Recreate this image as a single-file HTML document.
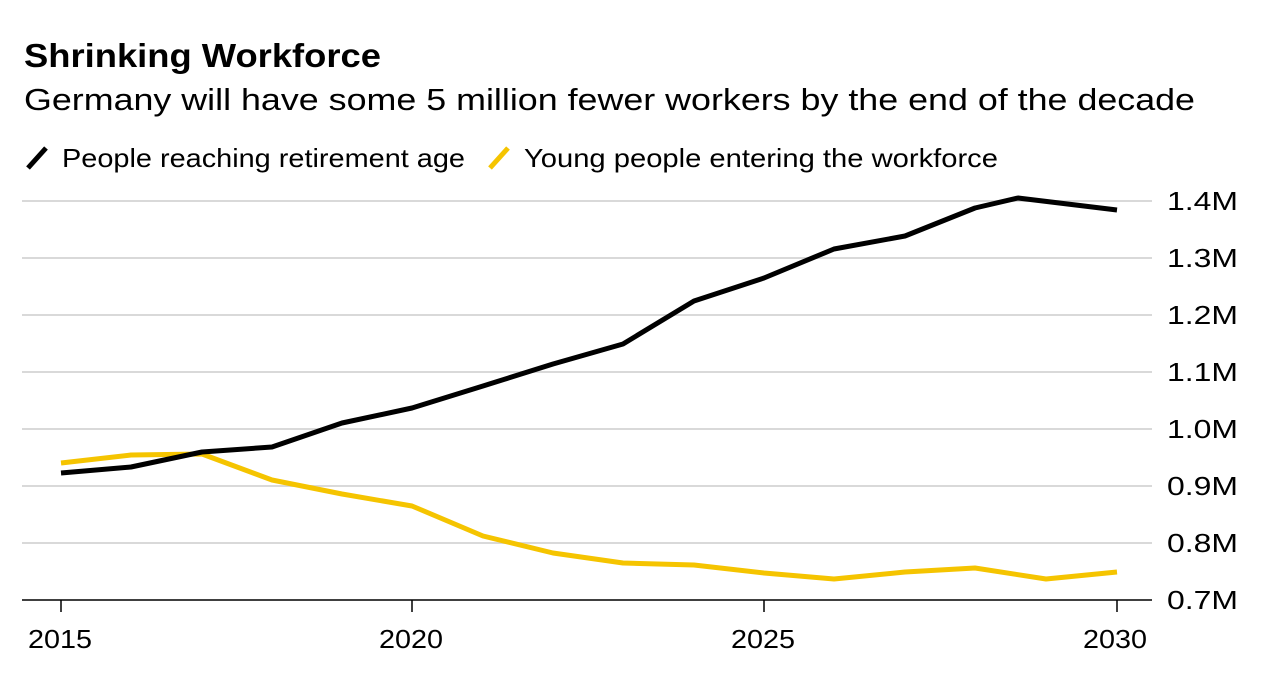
<!DOCTYPE html>
<html><head><meta charset="utf-8"><style>
body{margin:0;background:#fff;width:1264px;height:691px;overflow:hidden;font-family:"Liberation Sans",Arial,sans-serif;}
</style></head><body>
<svg width="1264" height="691" xmlns="http://www.w3.org/2000/svg" font-family="Liberation Sans, Arial, sans-serif">
<text x="24" y="67" font-size="33" font-weight="bold" fill="#000" textLength="357" lengthAdjust="spacingAndGlyphs">Shrinking Workforce</text>
<text x="24" y="110" font-size="31" fill="#000" textLength="1171" lengthAdjust="spacingAndGlyphs">Germany will have some 5 million fewer workers by the end of the decade</text>
<line x1="28" y1="168" x2="46" y2="148" stroke="#000" stroke-width="5"/>
<text x="62" y="167" font-size="26" fill="#000" textLength="403" lengthAdjust="spacingAndGlyphs">People reaching retirement age</text>
<line x1="490" y1="168" x2="508" y2="148" stroke="#f5c400" stroke-width="5"/>
<text x="524" y="167" font-size="26" fill="#000" textLength="474" lengthAdjust="spacingAndGlyphs">Young people entering the workforce</text>
<g stroke="#d9d9d9" stroke-width="2">
<line x1="22" y1="201" x2="1152" y2="201"/><line x1="22" y1="258" x2="1152" y2="258"/>
<line x1="22" y1="315" x2="1152" y2="315"/><line x1="22" y1="372" x2="1152" y2="372"/>
<line x1="22" y1="429" x2="1152" y2="429"/><line x1="22" y1="486" x2="1152" y2="486"/>
<line x1="22" y1="543" x2="1152" y2="543"/>
</g>
<line x1="22" y1="600" x2="1152" y2="600" stroke="#000" stroke-width="1.5"/>
<g stroke="#000" stroke-width="1.5">
<line x1="61" y1="600" x2="61" y2="612"/><line x1="412" y1="600" x2="412" y2="612"/>
<line x1="764" y1="600" x2="764" y2="612"/><line x1="1117" y1="600" x2="1117" y2="612"/>
</g>
<g font-size="26" fill="#000">
<text x="1167" y="210" textLength="71" lengthAdjust="spacingAndGlyphs">1.4M</text><text x="1167" y="267" textLength="71" lengthAdjust="spacingAndGlyphs">1.3M</text><text x="1167" y="324" textLength="71" lengthAdjust="spacingAndGlyphs">1.2M</text>
<text x="1167" y="381" textLength="71" lengthAdjust="spacingAndGlyphs">1.1M</text><text x="1167" y="438" textLength="71" lengthAdjust="spacingAndGlyphs">1.0M</text><text x="1167" y="495" textLength="71" lengthAdjust="spacingAndGlyphs">0.9M</text>
<text x="1167" y="552" textLength="71" lengthAdjust="spacingAndGlyphs">0.8M</text><text x="1167" y="609" textLength="71" lengthAdjust="spacingAndGlyphs">0.7M</text>
</g>
<g font-size="26" fill="#000">
<text x="28" y="648" textLength="64" lengthAdjust="spacingAndGlyphs">2015</text><text x="379" y="648" textLength="64" lengthAdjust="spacingAndGlyphs">2020</text><text x="731" y="648" textLength="64" lengthAdjust="spacingAndGlyphs">2025</text><text x="1083" y="648" textLength="64" lengthAdjust="spacingAndGlyphs">2030</text>
</g>
<polyline fill="none" stroke="#f5c400" stroke-width="5" stroke-linejoin="round" points="61,463 131,455 202,454 272,480 342,494 412,506 483,536 553,553 623,563 694,565 764,573 834,579 905,572 975,568 1046,579 1117,572"/>
<polyline fill="none" stroke="#000" stroke-width="5" stroke-linejoin="round" points="61,473 131,467 202,452 272,447 342,423 412,408 483,386 553,364 623,344 694,301 764,278 834,249 905,236 975,208 1018,198 1117,210"/>
</svg>
</body></html>
